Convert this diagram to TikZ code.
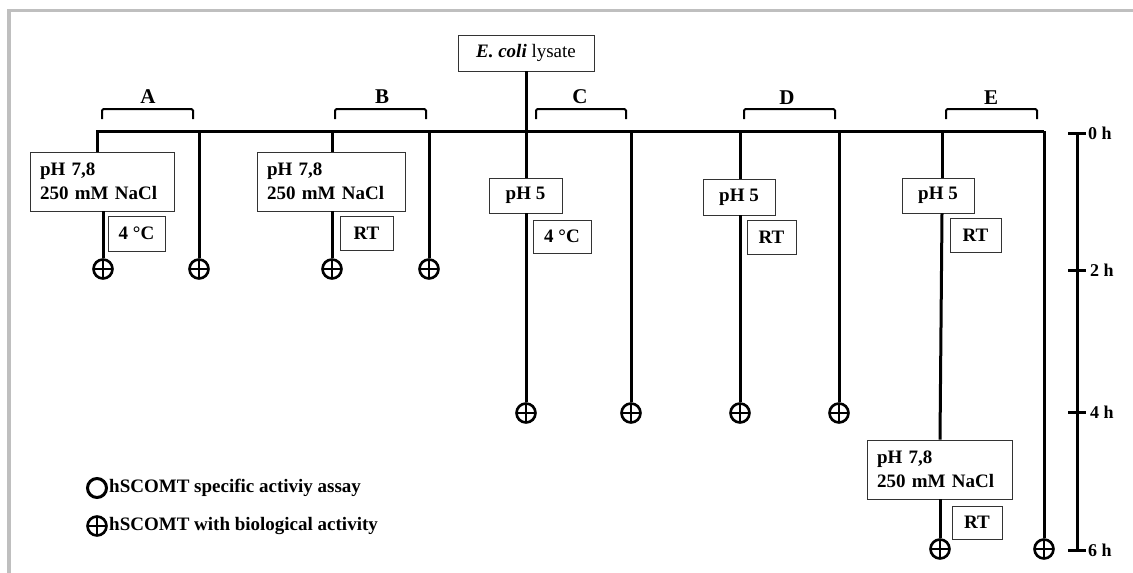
\documentclass[tikz,border=0pt]{standalone}
\usepackage{fontspec}
\setmainfont{Liberation Serif}
\begin{document}
\begin{tikzpicture}[x=1pt,y=-1pt,
  ln/.style={line width=3pt,black},
  brk/.style={line width=2pt,black,rounded corners=1.5pt},
  box/.style={draw=black!80,line width=0.9pt,fill=white,inner sep=0pt,font=\fontsize{19}{24}\selectfont\bfseries},
  bigbox/.style={box,align=left,text width=124pt,minimum width=144pt,minimum height=59pt},
  lbl/.style={font=\fontsize{21}{22}\selectfont\bfseries,inner sep=0pt},
  tlbl/.style={font=\fontsize{18}{20}\selectfont\bfseries,inner sep=0pt,anchor=west},
  leg/.style={font=\fontsize{19}{22}\selectfont\bfseries,inner sep=0pt,anchor=west},
  oplus/.style={circle,draw,line width=2.6pt,minimum size=19pt,inner sep=0pt,fill=white,
    path picture={\draw[line width=1.3pt] (path picture bounding box.west) -- (path picture bounding box.east)
      (path picture bounding box.north) -- (path picture bounding box.south);}},
  ocirc/.style={circle,draw,line width=3pt,minimum size=19pt,inner sep=0pt}
]
\useasboundingbox (0,0) rectangle (1133,573);
\draw[black!25,line width=3.5pt] (9,573) -- (9,10.5) -- (1133,10.5);

% main line
\coordinate (m0) at (96,131);
\coordinate (m1) at (1044,131);
\draw[ln] (m0) -- (m1);

% brackets and labels
\foreach \a/\b/\n in {102/193/A,335/426/B,536/626/C,744/835/D,946/1037/E}{
  \draw[brk] (\a,119) -- (\a,109) -- (\b,109) -- (\b,119);
}
\node[lbl] (lA) at (148,97) {A};
\node[lbl] (lB) at (382,97) {B};
\node[lbl] (lC) at (580,97) {C};
\node[lbl] (lD) at (787,98) {D};
\node[lbl] (lE) at (991,98) {E};

% E. coli lysate
\node[box,minimum width=136pt,minimum height=36pt] (ec) at (526,53) {\textit{E. coli} \mdseries lysate};

% ---- A ----
\coordinate (a1) at (97,131);
\node[bigbox] (pA) at (102,181.5) {pH 7,8\\250 mM NaCl};
\node[box,minimum width=57pt,minimum height=35pt] (tA) at (136.5,233.5) {4 °C};
\node[oplus] (cA1) at (103,269) {};
\coordinate (a2) at (199,131);
\node[oplus] (cA2) at (199,269) {};
\draw[ln] (a1) -- (a1 |- pA.north);
\draw[ln] (cA1 |- pA.south) -- (cA1);
\draw[ln] (a2) -- (cA2);

% ---- B ----
\coordinate (b1) at (332,131);
\node[bigbox,minimum width=148pt,text width=128pt] (pB) at (331,181.5) {pH 7,8\\250 mM NaCl};
\node[box,minimum width=53pt,minimum height=34pt] (tB) at (366.5,233) {RT};
\node[oplus] (cB1) at (332,269) {};
\coordinate (b2) at (429,131);
\node[oplus] (cB2) at (429,269) {};
\draw[ln] (b1) -- (pB.north -| b1);
\draw[ln] (pB.south -| cB1) -- (cB1);
\draw[ln] (b2) -- (cB2);

% ---- C ----
\node[box,minimum width=73pt,minimum height=35pt] (pC) at (525.5,195.5) {pH 5};
\node[box,minimum width=58pt,minimum height=33pt] (tC) at (562,236.5) {4 °C};
\node[oplus] (cC1) at (526,413) {};
\coordinate (c2) at (631,131);
\node[oplus] (cC2) at (631,413) {};
\draw[ln] (ec.south) -- (pC.north -| ec.south);
\draw[ln] (pC.south -| cC1) -- (cC1);
\draw[ln] (c2) -- (cC2);

% ---- D ----
\coordinate (d1) at (740,131);
\node[box,minimum width=72pt,minimum height=36pt] (pD) at (739,197) {pH 5};
\node[box,minimum width=49pt,minimum height=34pt] (tD) at (771.5,237) {RT};
\node[oplus] (cD1) at (740,413) {};
\coordinate (d2) at (839,131);
\node[oplus] (cD2) at (839,413) {};
\draw[ln] (d1) -- (pD.north -| d1);
\draw[ln] (pD.south -| cD1) -- (cD1);
\draw[ln] (d2) -- (cD2);

% ---- E ----
\coordinate (e1) at (942,131);
\node[box,minimum width=72pt,minimum height=35pt] (pE) at (938,195.5) {pH 5};
\node[box,minimum width=51pt,minimum height=34pt] (tE) at (975.5,235) {RT};
\node[bigbox,minimum width=145pt,text width=125pt] (pE2) at (939.5,469.5) {pH 7,8\\250 mM NaCl};
\node[box,minimum width=50pt,minimum height=33pt] (tE2) at (977,522.5) {RT};
\node[oplus] (cE1) at (940,549) {};
\node[oplus] (cE2) at (1044,549) {};
\draw[ln] (e1) -- (pE.north -| e1);
\draw[ln] (pE.south -| e1) -- (pE2.north -| cE1);
\draw[ln] (pE2.south -| cE1) -- (cE1);
\draw[ln] (m1) -- (cE2);

% ---- time axis ----
\coordinate (t0) at (1077,133);
\coordinate (t6) at (1077,550);
\draw[ln] (t0) -- (t6);
\foreach \y/\l in {133/0,270/2,412/4,550/6}{
  \draw[ln] (1068,\y) -- (1086,\y);
}
\node[tlbl] (h0) at (1088,133) {0 h};
\node[tlbl] (h2) at (1090,270) {2 h};
\node[tlbl] (h4) at (1090,412) {4 h};
\node[tlbl] (h6) at (1088,550) {6 h};

% ---- legend ----
\node[ocirc] (lo) at (97,488) {};
\node[leg] (lot) at (109,488) {hSCOMT specific activiy assay};
\node[oplus] (lp) at (97,526) {};
\node[leg] (lpt) at (109,526) {hSCOMT with biological activity};
\end{tikzpicture}
\end{document}
